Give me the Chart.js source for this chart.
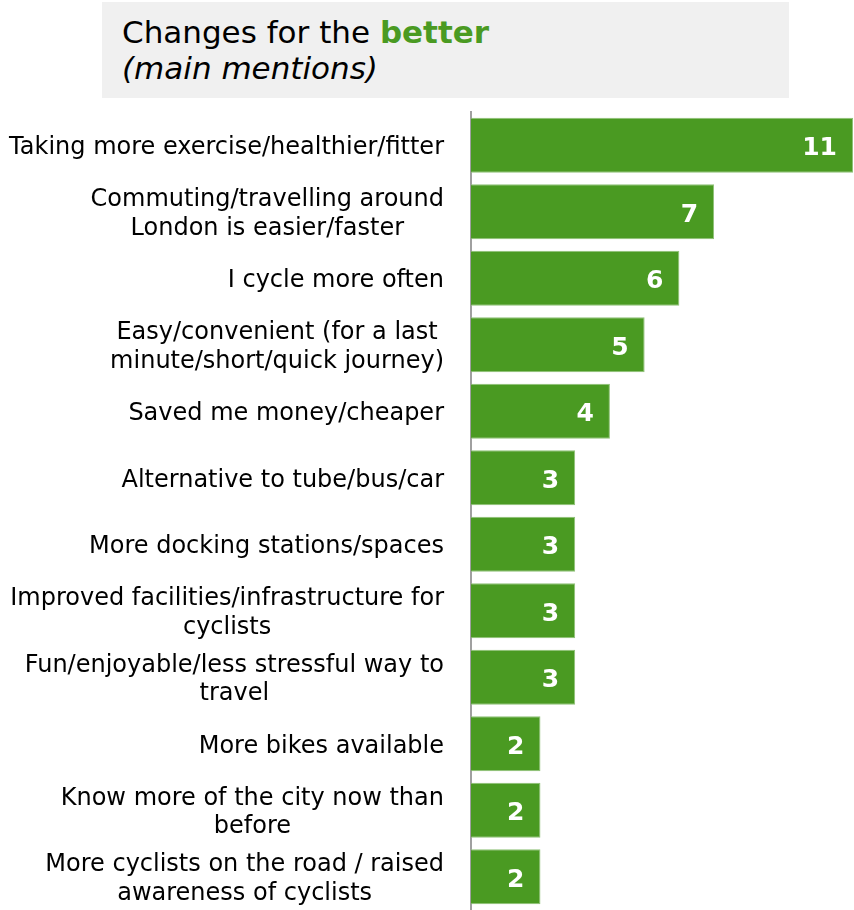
<!DOCTYPE html>
<html>
<head>
<meta charset="utf-8">
<script src="https://cdn.jsdelivr.net/npm/chart.js@4/dist/chart.umd.min.js"></script>
<style>
  html, body { margin: 0; padding: 0; background: #ffffff; }
  #wrap { position: relative; width: 854px; height: 910px; }
  #title {
    position: absolute; left: 102px; top: 2px; width: 687px; height: 96px;
    background: #f0f0f0; box-sizing: border-box; padding: 12px 0 0 20px;
    font-family: "DejaVu Sans", Verdana, sans-serif; font-size: 31px; line-height: 36px; color: #000;
  }
  #title .hl { color: #4a9a22; font-weight: bold; }
  #title .sub { font-style: italic; }
  canvas { position: absolute; left: 0; top: 0; }
</style>
</head>
<body>
<div id="wrap">
  <div id="title">Changes for the <span class="hl">better</span><br><span class="sub">(main mentions)</span></div>
  <canvas id="c" width="854" height="910"></canvas>
</div>
<script>
const categories = [
  ["Taking more exercise/healthier/fitter"],
  ["Commuting/travelling around", "London is easier/faster"],
  ["I cycle more often"],
  ["Easy/convenient (for a last", "minute/short/quick journey)"],
  ["Saved me money/cheaper"],
  ["Alternative to tube/bus/car"],
  ["More docking stations/spaces"],
  ["Improved facilities/infrastructure for", "cyclists"],
  ["Fun/enjoyable/less stressful way to", "travel"],
  ["More bikes available"],
  ["Know more of the city now than", "before"],
  ["More cyclists on the road / raised", "awareness of cyclists"]
];
const values = [11, 7, 6, 5, 4, 3, 3, 3, 3, 2, 2, 2];

const LABEL_SIZE = 24;
const LABEL_FONT = LABEL_SIZE + 'px "DejaVu Sans", Verdana, sans-serif';
const VALUE_SIZE = 25;
const VALUE_FONT = 'bold ' + VALUE_SIZE + 'px "DejaVu Sans", Verdana, sans-serif';

const labelPlugin = {
  id: 'customLabels',
  afterDatasetsDraw(chart) {
    const ctx = chart.ctx;
    const y = chart.scales.y;
    const meta = chart.getDatasetMeta(0);
    ctx.save();
    // category labels: right-aligned block, lines centred among themselves
    ctx.font = LABEL_FONT;
    ctx.fillStyle = '#000000';
    ctx.textBaseline = 'alphabetic';
    ctx.textAlign = 'right';
    const rightEdge = chart.chartArea.left - 27;
    const lineH = 28.8;
    const capOff = LABEL_SIZE * 0.365;
    categories.forEach((lines, i) => {
      const cy = y.getPixelForValue(i);
      const widths = lines.map(l => ctx.measureText(l).width);
      const maxW = Math.max(...widths);
      lines.forEach((l, j) => {
        const x = rightEdge - (maxW - widths[j]) / 2;
        ctx.fillText(l, x, cy + capOff + (j - (lines.length - 1) / 2) * lineH);
      });
    });
    // value labels inside bars
    ctx.font = VALUE_FONT;
    ctx.fillStyle = '#ffffff';
    ctx.textAlign = 'right';
    meta.data.forEach((bar, i) => {
      ctx.fillText(String(values[i]), bar.x - 16, bar.y + VALUE_SIZE * 0.365 + 1);
    });
    ctx.restore();
  }
};

new Chart(document.getElementById('c'), {
  type: 'bar',
  data: {
    labels: categories,
    datasets: [{
      data: values,
      backgroundColor: '#4a9a22',
      borderColor: '#8fc177',
      borderWidth: 1,
      borderSkipped: 'start',
      barPercentage: 0.827,
      categoryPercentage: 1.0
    }]
  },
  options: {
    indexAxis: 'y',
    responsive: false,
    animation: false,
    devicePixelRatio: 1,
    layout: { padding: { top: 112, right: 1, bottom: 0, left: 0 } },
    plugins: { legend: { display: false }, tooltip: { enabled: false }, title: { display: false } },
    scales: {
      x: { display: false, min: 0, max: 11 },
      y: {
        grid: { display: false, drawTicks: false },
        border: { display: true, color: '#a0a0a0', width: 2 },
        ticks: { display: false },
        afterFit(scale) { scale.width = 471; }
      }
    }
  },
  plugins: [labelPlugin]
});
</script>
</body>
</html>
